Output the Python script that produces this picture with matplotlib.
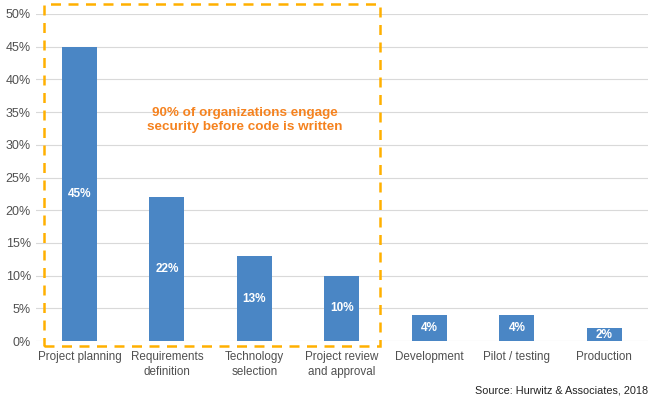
import matplotlib.pyplot as plt
from matplotlib.patches import Rectangle

categories = ["Project planning", "Requirements\ndefinition", "Technology\nselection",
              "Project review\nand approval", "Development", "Pilot / testing", "Production"]
values = [45, 22, 13, 10, 4, 4, 2]
yticks = [0, 5, 10, 15, 20, 25, 30, 35, 40, 45, 50]
callout = "90% of organizations engage\nsecurity before code is written"
source = "Source: Hurwitz & Associates, 2018"

plt.rcParams['font.family'] = ['Liberation Sans', 'DejaVu Sans']

fig = plt.figure(figsize=(6.5, 3.99), dpi=100)
ax = fig.add_axes([0.055, 0.145, 0.942, 0.82])

x = range(len(categories))
bars = ax.bar(x, values, width=0.4, color='#4A86C5', zorder=3)
for b, v in zip(bars, values):
    ax.text(b.get_x() + b.get_width() / 2, v / 2, f"{v}%", ha='center', va='center',
            color='white', fontsize=8.5, fontweight='bold', zorder=4)

ax.set_xlim(-0.5, len(categories) - 0.5)
ax.set_ylim(0, 50)
ax.set_yticks(yticks)
ax.set_yticklabels([f"{t}%" for t in yticks])
ax.set_xticks(list(x))
ax.set_xticklabels(categories, fontsize=8.4, linespacing=1.4)
ax.tick_params(length=0, colors='#505050')
ax.tick_params(axis='y', labelsize=9)
ax.tick_params(axis='x', pad=7)
ax.grid(axis='y', color='#D9D9D9', linewidth=0.8, zorder=0)
for s in ax.spines.values():
    s.set_visible(False)

# dashed callout box around the pre-code stages
box = Rectangle((-0.41, -0.8), 3.84, 52.3, fill=False, edgecolor='#FFB000',
                linestyle=(0, (4, 3)), linewidth=1.8, clip_on=False, zorder=5)
ax.add_patch(box)
ax.text(1.89, 33.8, callout, ha='center', va='center', color='#F5821F',
        fontsize=9.7, fontweight='bold', linespacing=1.3)

fig.text(0.997, 0.008, source, ha='right', va='bottom', fontsize=7.8, color='#222222')

fig.savefig('out.png', dpi=100)
